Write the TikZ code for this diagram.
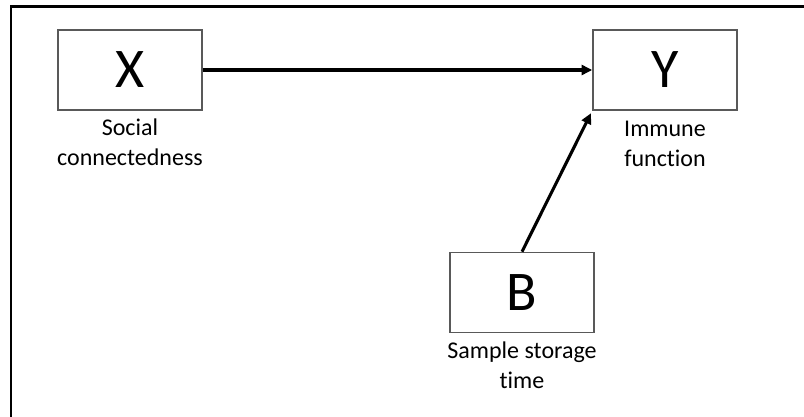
\documentclass[tikz,border=0pt]{standalone}
\usepackage{fontspec}
\setmainfont{Carlito}[Ligatures=NoCommon]
\usetikzlibrary{arrows.meta}

\tikzset{
  varbox/.style={draw={rgb,255:red,89;green,89;blue,89}, line width=1.2pt, fill=white,
    minimum width=108pt, minimum height=60pt, inner sep=0pt,
    font=\fontsize{42}{50}\selectfont},
  varlabel/.style={align=center, inner sep=0.75pt, font=\fontsize{18}{22.5}\selectfont},
  link/.style={line width=2.3pt, -{Triangle[length=8pt,width=7.5pt]}}
}

\begin{document}
\begin{tikzpicture}[x=0.75pt,y=0.75pt,yscale=-1,xscale=1]
\useasboundingbox (0,0) rectangle (804,417);

% Frame
\draw [line width=1.6pt] (11,417) -- (11,6.5) -- (804,6.5) ;

% Boxes
\node [varbox] (x) at (130,70) {X};
\node [varbox] (y) at (665,70) {Y};
\node [varbox] (b) at (522,292.5) {B};

% Text Node
\node [varlabel, anchor=north] (xlabel) at (130,118) {Social\\connectedness};
% Text Node
\node [varlabel, anchor=north] (ylabel) at (665,120) {Immune\\function};
% Text Node
\node [varlabel, anchor=north] (blabel) at (522,341) {Sample storage\\time};

% Connection
\draw [link] (x.east) -- (y.west) ;
% Connection
\draw [link, shorten >=2pt] (b.north) -- (y.south west) ;

\end{tikzpicture}
\end{document}
